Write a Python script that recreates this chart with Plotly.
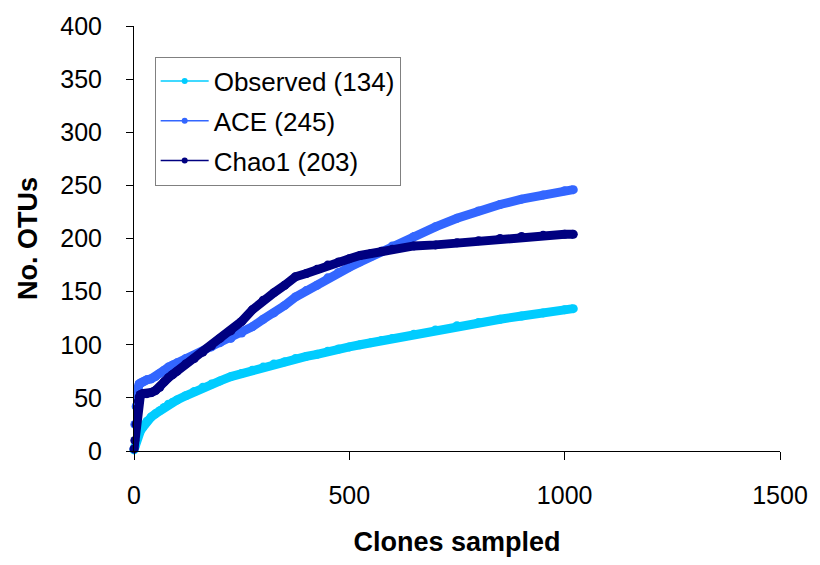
import plotly.graph_objects as go

clones = [0, 2, 5, 8, 10, 12, 15, 20, 25, 30, 40, 50, 60, 70, 80, 90, 100, 120, 140, 160,
          180, 200, 225, 250, 275, 300, 325, 350, 375, 400, 425, 450, 475, 500, 525, 550,
          575, 600, 650, 700, 750, 800, 850, 900, 950, 1000, 1020]

observed = [1, 4, 9, 13, 15, 17, 19, 22, 25, 28, 32, 35, 38, 41, 44, 46, 48, 52, 56, 60,
            63, 66, 70, 73, 76, 79, 82, 84, 87, 89, 91, 94, 96, 98, 100, 102,
            104, 106, 110, 114, 118, 121, 124, 127, 130, 133, 134]

ace = [2, 25, 42, 55, 60, 63, 64, 65, 66, 67, 68, 70, 73, 76, 79, 81, 83, 87, 90, 94,
       98, 102, 106, 111, 117, 124, 130, 137, 145, 151, 156, 163, 168, 173, 178, 183,
       188, 193, 202, 211, 219, 226, 232, 237, 241, 245, 246]

chao1 = [2, 10, 25, 40, 47, 51, 53, 54, 54, 54, 55, 57, 60, 65, 69, 72, 75, 82, 87, 93,
         99, 106, 113, 122, 133, 142, 149, 156, 164, 167, 171, 175, 178, 181, 184, 186,
         188, 190, 193, 194, 196, 198, 200, 202, 203, 204, 204]

names = ["Observed (134)", "ACE (245)", "Chao1 (203)"]
colors = ["#00CCFF", "#3366FF", "#000080"]
series = [observed, ace, chao1]

x_ticks = [0, 500, 1000, 1500]
y_ticks = [0, 50, 100, 150, 200, 250, 300, 350, 400]

fig = go.Figure()

for name, col, ys in zip(names, colors, series):
    fig.add_trace(go.Scatter(
        x=clones, y=ys, mode="lines+markers", name=name, showlegend=False,
        line=dict(color=col, width=9),
        marker=dict(color=col, size=9, line=dict(width=0)),
        cliponaxis=False,
    ))

for i, (name, col) in enumerate(zip(names, colors)):
    fig.add_trace(go.Scatter(
        x=[None], y=[None], mode="lines+markers", name=name, legendgroup=f"g{i}",
        line=dict(color=col, width=1.5),
        marker=dict(color=col, size=6),
    ))

font_family = "Arial, Liberation Sans, sans-serif"

fig.update_layout(
    width=820, height=565,
    margin=dict(l=134, r=38, t=22, b=114),
    paper_bgcolor="white", plot_bgcolor="white",
    font=dict(family=font_family, color="black", size=25),
    legend=dict(
        x=0.032, y=0.928, xanchor="left", yanchor="top",
        bordercolor="#808080", borderwidth=1, bgcolor="white",
        font=dict(size=26, family=font_family),
        tracegroupgap=3, itemwidth=48,
    ),
    xaxis=dict(
        range=[0, 1500], tickvals=x_ticks, ticktext=[str(v) for v in x_ticks],
        showgrid=False, zeroline=False, showline=True, linecolor="black", linewidth=1,
        ticks="outside", ticklen=8, tickcolor="black", tickwidth=1,
        ticklabelstandoff=14,
        tickfont=dict(size=25),
        title=dict(text="<b>Clones sampled</b>", font=dict(size=27), standoff=24),
    ),
    yaxis=dict(
        range=[0, 400], tickvals=y_ticks, ticktext=[str(v) for v in y_ticks],
        showgrid=False, zeroline=False, showline=True, linecolor="black", linewidth=1,
        ticks="outside", ticklen=7, tickcolor="black", tickwidth=1,
        ticklabelstandoff=19,
        tickfont=dict(size=25),
        title=dict(text="<b>No. OTUs</b>", font=dict(size=27), standoff=14),
    ),
)

fig.write_html("out.html")
